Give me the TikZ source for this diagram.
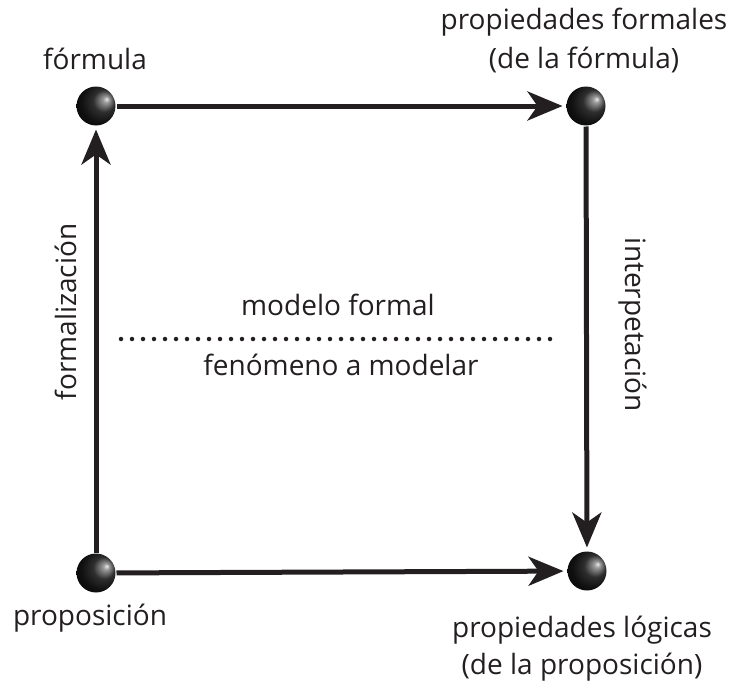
\documentclass[tikz,border=0pt]{standalone}
\usepackage{fontspec}
\setmainfont{Open Sans}
\usetikzlibrary{arrows.meta}
\pgfdeclareradialshading{orb}{\pgfpoint{14bp}{9bp}}{color(0bp)=(white!92!black); color(4bp)=(white!60!black); color(14bp)=(black!82); color(26bp)=(black!94); color(50bp)=(black)}

\begin{document}
\begin{tikzpicture}[x=1pt, y=-1pt, >={Stealth[length=35pt,width=29pt,inset=10pt]}, every node/.style={font=\fontsize{28}{32}\selectfont}]
\definecolor{Ink}{HTML}{231F20}
\tikzset{orb/.style={circle, minimum size=39pt, inner sep=0pt, outer sep=1pt, shading=orb}, link/.style={->, line width=5pt, draw=Ink, shorten >=3pt}, lbl/.style={anchor=base, text=Ink}}
\useasboundingbox (0,0) rectangle (733,685);
% the four points
\node[orb] (formula) at (96,106) {}; \node[orb] (propform) at (586,106) {};
\node[orb] (prop) at (96,573) {}; \node[orb] (proplog) at (587,571) {};
% arrows between them
\draw[link] (formula) -- (propform); \draw[link] (propform) -- (proplog);
\draw[link] (prop) -- (formula); \draw[link] (prop) -- (proplog);
% labels
\node[lbl] (tformula) at (95,70) {fórmula};
\node[lbl] (tpropform) at (584,30) {propiedades formales}; \node[lbl] (tpropformb) at (584,69) {(de la fórmula)};
\node[lbl] (tprop) at (90,625) {proposición};
\node[lbl] (tproplog) at (582,637) {propiedades lógicas}; \node[lbl] (tproplogb) at (582,674) {(de la proposición)};
\node[lbl, rotate=90] (tformal) at (76,312) {formalización};
\node[lbl, rotate=-90] (tinterp) at (625,325) {interpetación};
% the line between model and phenomenon
\coordinate (sepL) at (121,339); \coordinate (sepR) at (553,339);
\draw[Ink, line width=4.5pt, line cap=round, dash pattern=on 0pt off 11pt] (sepL) -- (sepR);
\node[lbl] (tmodel) at (338,315) {modelo formal};
\node[lbl] (tphen) at (341,375) {fenómeno a modelar};
\end{tikzpicture}
\end{document}
